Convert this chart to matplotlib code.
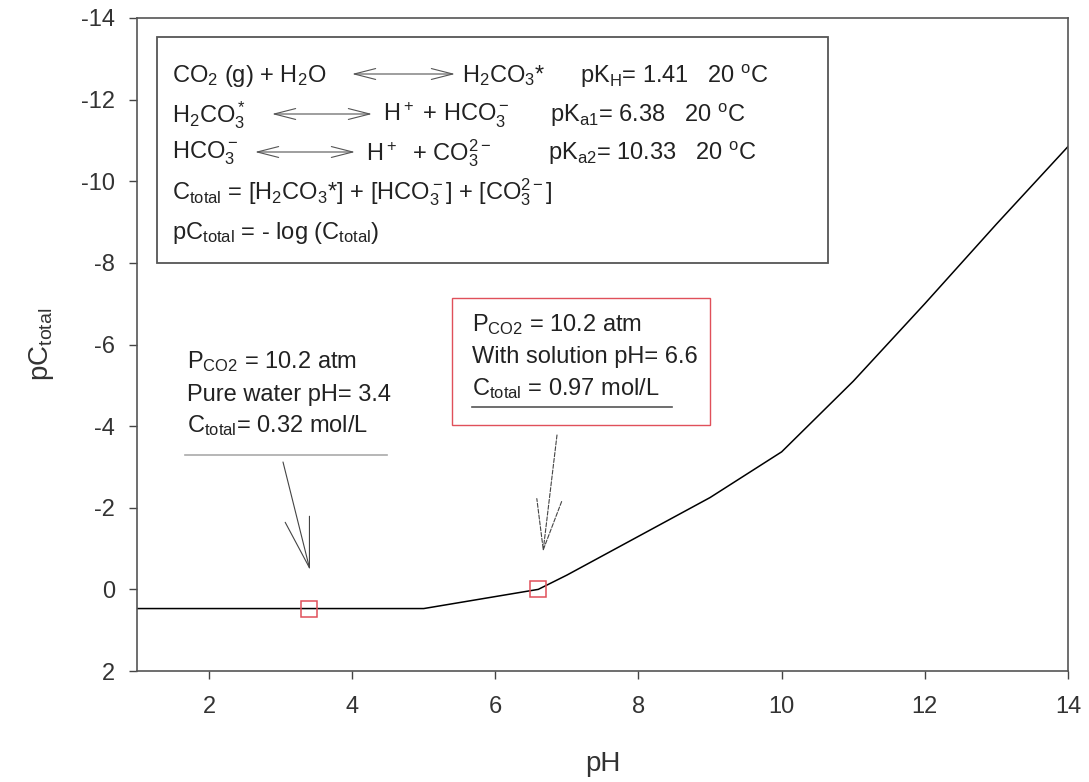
import matplotlib
matplotlib.use("Agg")
import matplotlib.pyplot as plt
from matplotlib.patches import Rectangle

# pC_total vs pH curve
ph = [1, 2, 3, 4, 5, 6.6, 7, 8, 9, 10, 11, 12, 13, 14]
pc_total = [0.47, 0.47, 0.47, 0.47, 0.47, 0.0, -0.35, -1.3, -2.25, -3.37, -5.1, -7.0, -8.95, -10.85]

# highlighted points
marker_ph = [3.4, 6.6]
marker_pc = [0.48, 0.0]

xticks = [2, 4, 6, 8, 10, 12, 14]
yticks = [-14, -12, -10, -8, -6, -4, -2, 0, 2]

plt.rcParams['font.family'] = ['Liberation Sans', 'DejaVu Sans']
plt.rcParams['mathtext.fontset'] = 'custom'
plt.rcParams['mathtext.rm'] = 'Liberation Sans'
plt.rcParams['mathtext.it'] = 'Liberation Sans'
plt.rcParams['mathtext.default'] = 'regular'
plt.rcParams['axes.unicode_minus'] = False

W, H = 1089, 782
fig = plt.figure(figsize=(W / 100, H / 100), dpi=100)
L, R, T, B = 137.4, 1068, 18, 671
ax = fig.add_axes([L / W, 1 - B / H, (R - L) / W, (B - T) / H])

ax.plot(ph, pc_total, color='black', lw=1.1)
ax.plot(marker_ph, marker_pc, 's', ms=12, mfc='none', mec='#e0505a', mew=1.1)

ax.set_xlim(1, 14)
ax.set_ylim(2, -14)
ax.set_xticks(xticks)
ax.set_yticks(yticks)
ax.tick_params(direction='out', length=6, width=1, color='#444444',
               labelsize=17, pad=10, labelcolor='#333333')
ax.tick_params(axis='x', pad=12)
for s in ax.spines.values():
    s.set_color('#555555')
    s.set_linewidth(1.2)

ax.set_xlabel('pH', fontsize=20, color='#333333', labelpad=24)
ax.set_ylabel('pC$_{total}$', fontsize=20, color='#333333', labelpad=18)


def ax_xy(px, py):
    # pixel position on the image -> axes fraction
    return (px - L) / (R - L), (B - py) / (B - T)


def put(px, py, s, size=17):
    x, y = ax_xy(px, py)
    ax.text(x, y, s, transform=ax.transAxes, fontsize=size, color='#222222',
            va='center', ha='left')


def arrow(px0, px1, py):
    ax.annotate('', xy=ax_xy(px1, py), xytext=ax_xy(px0, py),
                xycoords='axes fraction', textcoords='axes fraction',
                arrowprops=dict(arrowstyle='<->,head_length=1.1,head_width=0.28',
                                color='#555555', lw=0.8, shrinkA=0, shrinkB=0,
                                mutation_scale=14))


# equations box
x0, y0 = ax_xy(157, 263)
x1, y1 = ax_xy(828, 37)
ax.add_patch(Rectangle((x0, y0), x1 - x0, y1 - y0, transform=ax.transAxes,
                       fill=False, ec='#555555', lw=1.3))

put(172, 76, 'CO$_2$ (g) + H$_2$O')
arrow(352, 455, 74)
put(462, 76, 'H$_2$CO$_3$*')
put(580, 76, 'pK$_H$= 1.41   20 $^o$C')

put(172, 115, 'H$_2$CO$_3^*$')
arrow(272, 372, 114)
put(383, 115, 'H$^+$ + HCO$_3^-$')
put(550, 115, 'pK$_{a1}$= 6.38   20 $^o$C')

put(172, 153, 'HCO$_3^-$')
arrow(255, 355, 152)
put(366, 153, 'H$^+$  + CO$_3^{2-}$')
put(548, 153, 'pK$_{a2}$= 10.33   20 $^o$C')

put(172, 192, 'C$_{total}$ = [H$_2$CO$_3$*] + [HCO$_3^-$] + [CO$_3^{2-}$]')
put(172, 233, 'pC$_{total}$ = - log (C$_{total}$)')

# red annotation box (solution)
x0, y0 = ax_xy(452, 425)
x1, y1 = ax_xy(710, 298)
ax.add_patch(Rectangle((x0, y0), x1 - x0, y1 - y0, transform=ax.transAxes,
                       fill=False, ec='#e0505a', lw=1.0))
put(472, 325, 'P$_{CO2}$ = 10.2 atm')
put(472, 357, 'With solution pH= 6.6')
put(472, 389, 'C$_{total}$ = 0.97 mol/L')
ax.plot(*zip(ax_xy(472, 407), ax_xy(672, 407)), transform=ax.transAxes,
        color='#555555', lw=1.2)

# pure water annotation
put(187, 362, 'P$_{CO2}$ = 10.2 atm')
put(187, 395, 'Pure water pH= 3.4')
put(187, 426, 'C$_{total}$= 0.32 mol/L')
ax.plot(*zip(ax_xy(185, 455), ax_xy(387, 455)), transform=ax.transAxes,
        color='#aaaaaa', lw=1.2)

ax.annotate('', xy=ax_xy(310, 570), xytext=ax_xy(283, 462),
            xycoords='axes fraction', textcoords='axes fraction',
            arrowprops=dict(arrowstyle='->,head_length=1.8,head_width=0.45',
                            color='#444444', lw=0.8, shrinkA=0, shrinkB=0,
                            mutation_scale=20))
ax.annotate('', xy=ax_xy(543, 552), xytext=ax_xy(557, 435),
            xycoords='axes fraction', textcoords='axes fraction',
            arrowprops=dict(arrowstyle='->,head_length=1.8,head_width=0.45',
                            color='#444444', lw=0.8, ls='--', shrinkA=0, shrinkB=0,
                            mutation_scale=20))

fig.savefig('out.png', dpi=100)
